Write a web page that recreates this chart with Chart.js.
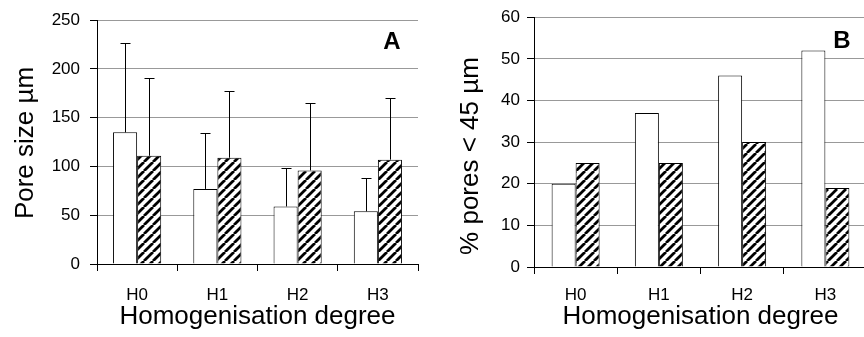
<!DOCTYPE html>
<html>
<head>
<meta charset="utf-8">
<script src="https://cdn.jsdelivr.net/npm/chart.js@4"></script>
<style>
  html, body { margin: 0; padding: 0; background: #fff; overflow: hidden; }
  #wrap { position: relative; width: 864px; height: 337px; overflow: hidden; }
  canvas { position: absolute; top: 0; }
  #chartA { left: 0; }
  #chartB { left: 432px; }
</style>
</head>
<body>
<div id="wrap">
  <canvas id="chartA" width="432" height="337"></canvas>
  <canvas id="chartB" width="450" height="337"></canvas>
</div>
<script>
const categories = ['H0', 'H1', 'H2', 'H3'];

// panel A: pore size (µm) with upper error
const poreOpen = [135, 77, 59, 54];
const poreOpenErr = [92, 57, 39, 34];
const poreHatched = [111, 109, 96, 107];
const poreHatchedErr = [80, 68, 69, 63];
const poreTicks = [0, 50, 100, 150, 200, 250];

// panel B: % pores < 45 µm
const smallOpen = [20, 37, 46, 52];
const smallHatched = [25, 25, 30, 19];
const smallTicks = [0, 10, 20, 30, 40, 50, 60];

const FONT = '"Liberation Sans", Arial, sans-serif';
Chart.defaults.font.family = FONT;
Chart.defaults.color = '#000';

// diagonal /// hatch fill
function makeHatch() {
  const s = 9;
  const c = document.createElement('canvas');
  c.width = s;
  c.height = s;
  const g = c.getContext('2d');
  g.fillStyle = '#fff';
  g.fillRect(0, 0, s, s);
  g.strokeStyle = '#000';
  g.lineWidth = 2.8;
  g.beginPath();
  for (let k = -1; k <= 1; k++) {
    g.moveTo(k * s, s);
    g.lineTo(k * s + s, 0);
  }
  g.stroke();
  return g.createPattern(c, 'repeat');
}
const hatch = makeHatch();

// upper error bars, drawn from the bar top
const errorBars = {
  id: 'errorBars',
  afterDatasetsDraw(chart) {
    const { ctx, scales: { y } } = chart;
    ctx.save();
    ctx.strokeStyle = '#000';
    ctx.lineWidth = 1;
    chart.data.datasets.forEach((ds, i) => {
      if (!ds.errors) return;
      chart.getDatasetMeta(i).data.forEach((bar, j) => {
        const x = Math.round(bar.x) + 0.5;
        const top = Math.round(y.getPixelForValue(ds.data[j] + ds.errors[j])) + 0.5;
        ctx.beginPath();
        ctx.moveTo(x, bar.y);
        ctx.lineTo(x, top);
        ctx.moveTo(x - 5, top);
        ctx.lineTo(x + 5, top);
        ctx.stroke();
      });
    });
    ctx.restore();
  }
};

// panel letter and rotated y title
const panelText = {
  id: 'panelText',
  afterDraw(chart, args, o) {
    const ctx = chart.ctx;
    ctx.save();
    ctx.fillStyle = '#000';
    ctx.textAlign = 'center';
    ctx.textBaseline = 'middle';
    ctx.font = 'bold 24px ' + FONT;
    ctx.fillText(o.letter, o.letterX, o.letterY);
    ctx.font = '26px ' + FONT;
    ctx.translate(o.titleX, o.titleY);
    ctx.rotate(-Math.PI / 2);
    ctx.fillText(o.title, 0, 0);
    ctx.restore();
  }
};

function makeChart(id, open, hatched, openErr, hatchedErr, ticks, o) {
  const bar = { borderColor: '#000', borderWidth: 1, categoryPercentage: o.catPct, barPercentage: 1 };
  return new Chart(document.getElementById(id), {
    type: 'bar',
    data: {
      labels: categories,
      datasets: [
        { ...bar, data: open, errors: openErr, backgroundColor: '#fff' },
        { ...bar, data: hatched, errors: hatchedErr, backgroundColor: hatch }
      ]
    },
    options: {
      responsive: false,
      animation: false,
      layout: { padding: o.padding },
      plugins: {
        legend: { display: false },
        tooltip: { enabled: false },
        panelText: o.text
      },
      scales: {
        x: {
          grid: { offset: true, drawOnChartArea: false, tickLength: 7, tickColor: '#000' },
          border: { color: '#000' },
          ticks: { font: { size: 17 }, padding: o.xPad, color: '#000' },
          title: {
            display: true,
            text: 'Homogenisation degree',
            font: { size: 26 },
            padding: { top: 0, bottom: 5 },
            color: '#000'
          },
          afterFit: s => { s.height = o.xHeight; }
        },
        y: {
          min: ticks[0],
          max: ticks[ticks.length - 1],
          afterBuildTicks: s => { s.ticks = ticks.map(v => ({ value: v })); },
          grid: { color: '#999', tickColor: '#000', tickLength: 7 },
          border: { color: '#000' },
          ticks: { font: { size: 17 }, padding: o.yPad, color: '#000' },
          afterFit: s => { s.width = o.yWidth; }
        }
      }
    },
    plugins: [errorBars, panelText]
  });
}

makeChart('chartA', poreOpen, poreHatched, poreOpenErr, poreHatchedErr, poreTicks, {
  padding: { top: 12, right: 14, left: 0, bottom: 0 },
  yWidth: 97, xHeight: 73, xPad: 14, yPad: 10, catPct: 0.6,
  text: { letter: 'A', letterX: 392, letterY: 42, title: 'Pore size µm', titleX: 26, titleY: 143 }
});

makeChart('chartB', smallOpen, smallHatched, null, null, smallTicks, {
  padding: { top: 14, right: 15, left: 0, bottom: 0 },
  yWidth: 102, xHeight: 70, xPad: 11, yPad: 7, catPct: 0.5766,
  text: { letter: 'B', letterX: 410, letterY: 41, title: '% pores < 45 µm', titleX: 39, titleY: 156 }
});
</script>
</body>
</html>
